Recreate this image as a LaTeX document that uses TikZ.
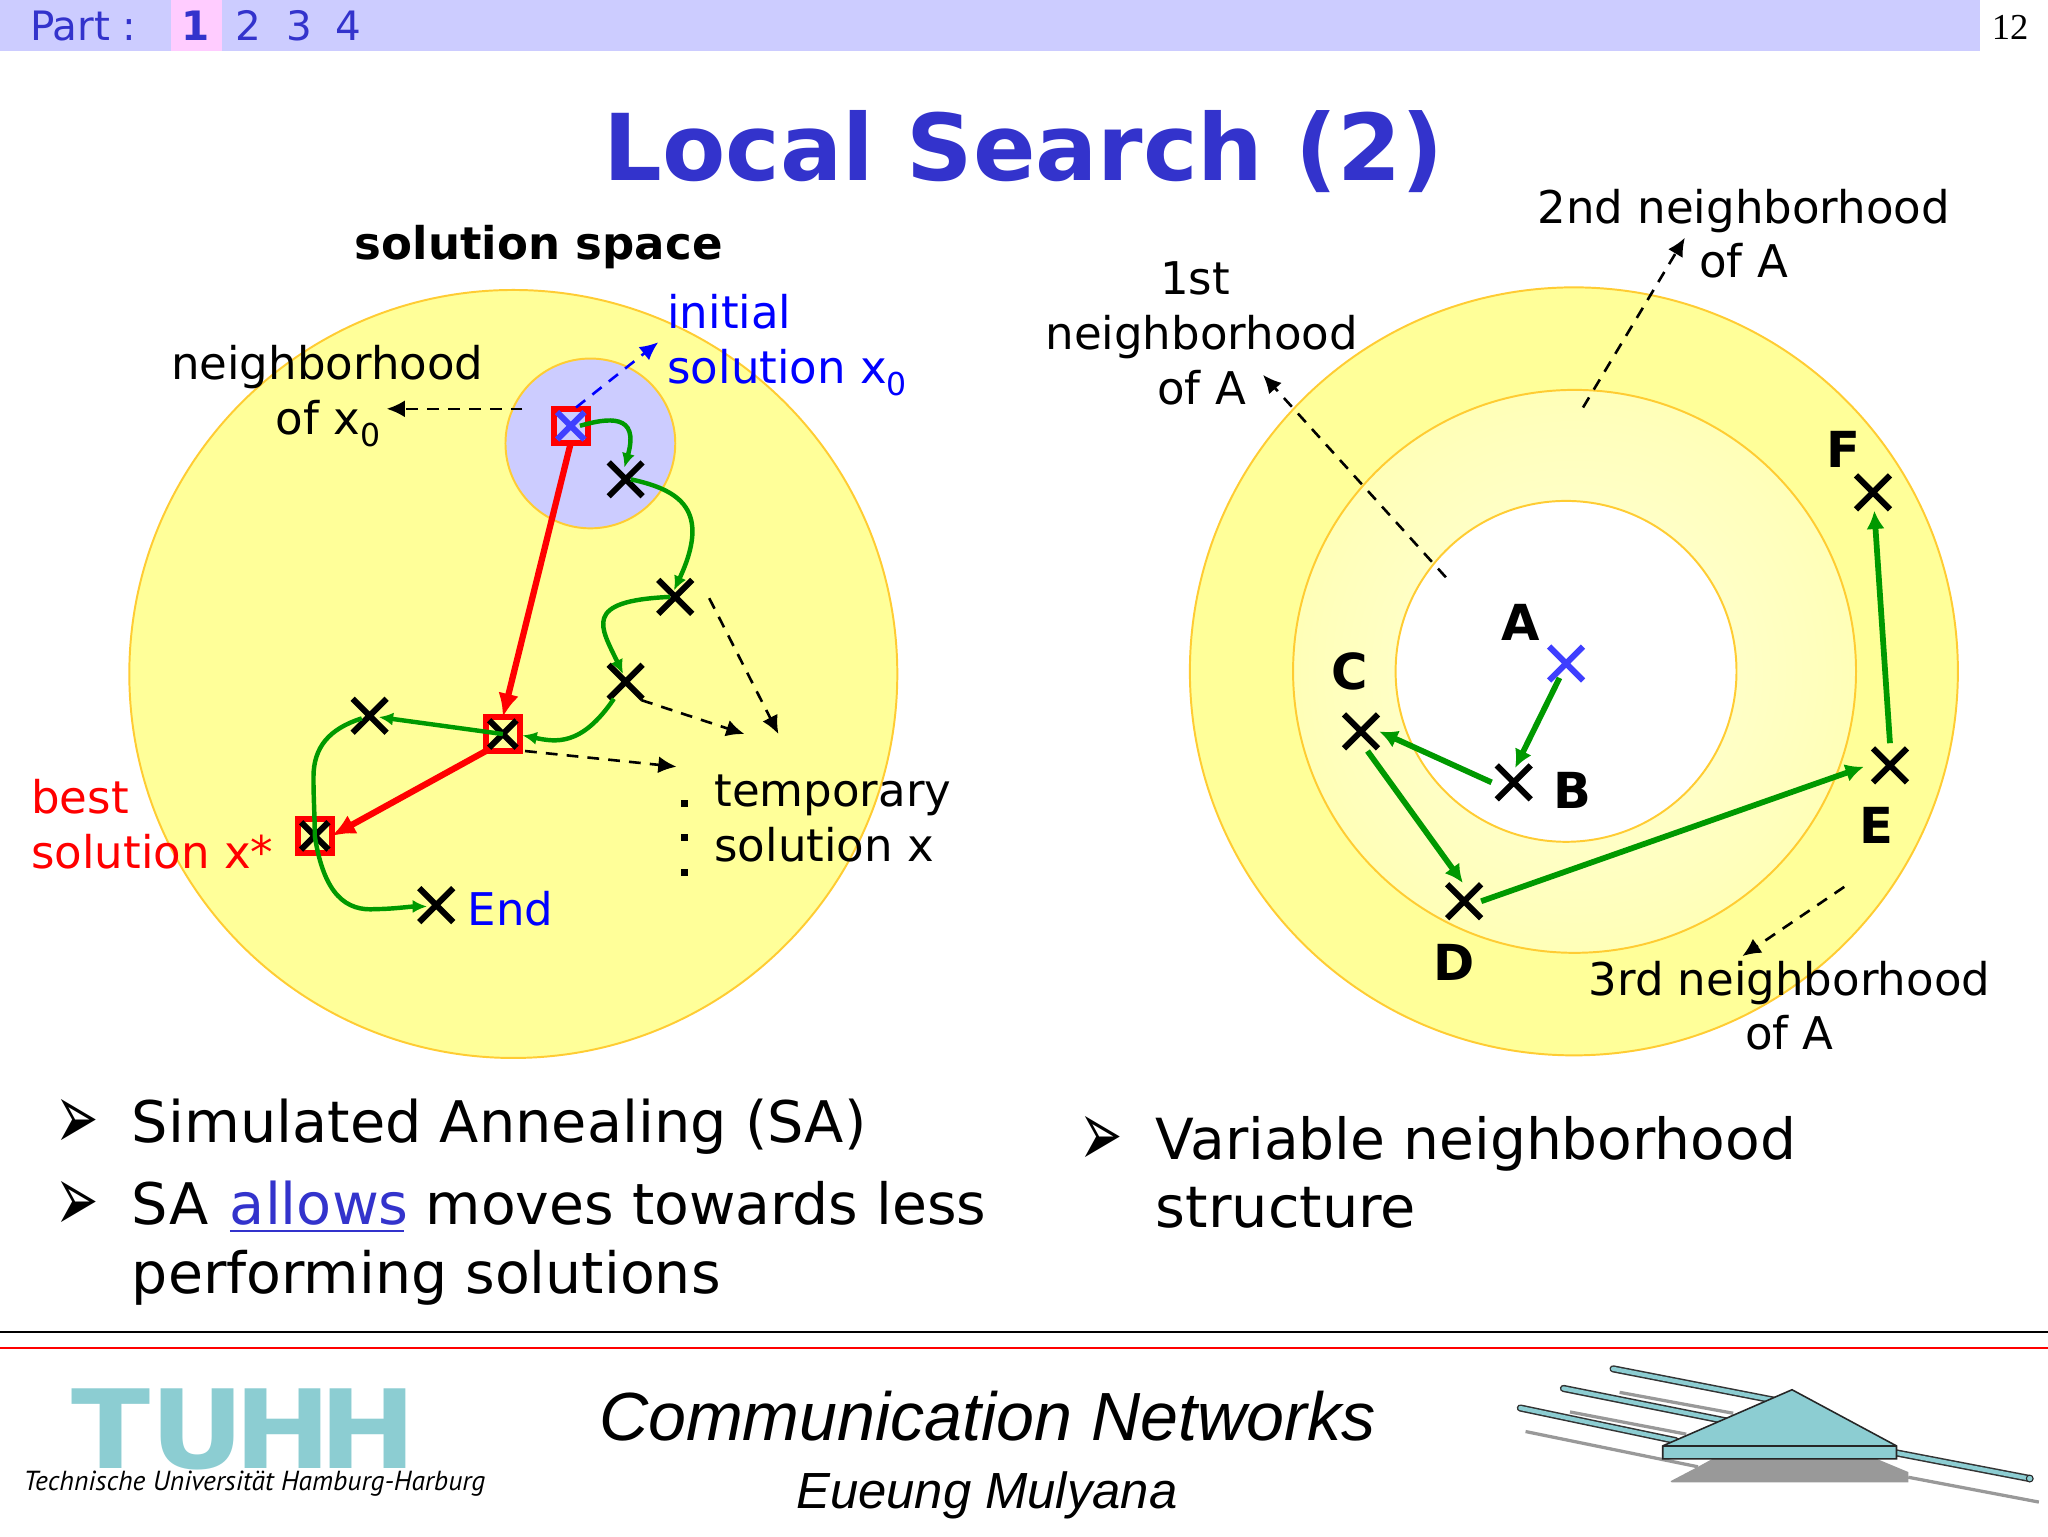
\documentclass[tikz,border=0pt]{standalone}
\usepackage{fontspec}
\setmainfont{DejaVu Sans}
\newfontfamily\arialf{Liberation Sans}
\newfontfamily\timesf{Liberation Serif}
\newfontfamily\logof{PT Sans}
\usetikzlibrary{arrows.meta,shapes.misc}
\definecolor{barblue}{HTML}{CCCCFF}
\definecolor{barpink}{HTML}{FFCCFF}
\definecolor{headblue}{HTML}{3333CC}
\definecolor{ptblue}{HTML}{0000FF}
\definecolor{softblue}{HTML}{3F3FFF}
\definecolor{pale}{HTML}{FFFF99}
\definecolor{rim}{HTML}{FFCC33}
\definecolor{go}{HTML}{009900}
\definecolor{teal}{HTML}{8CCDD2}
\definecolor{shadowgray}{HTML}{999999}
\pgfdeclareradialshading{ringshade}{\pgfpoint{0bp}{0bp}}{rgb(0bp)=(1,1,0.86); rgb(25bp)=(1,1,0.72); rgb(50bp)=(1,1,0.72)}
\newcommand{\fs}[1]{\fontsize{#1}{#1}\selectfont}
\tikzset{
  x=1pt,y=-1pt,
  txt/.style={anchor=base west,inner sep=0,outer sep=0},
  ctxt/.style={anchor=base,inner sep=0,outer sep=0},
  lab/.style={txt,font=\fs{34.5},yshift=-0.8pt},
  clab/.style={ctxt,font=\fs{34.5},yshift=-0.8pt},
  body/.style={txt,font=\fs{43.9}},
  letterlab/.style={ctxt,font=\fs{38}\bfseries},
  xmark/.style={cross out,draw=black,line width=4.6pt,minimum size=26pt,inner sep=0,outer sep=0},
  xsmall/.style={xmark,minimum size=21pt},
  redsq/.style={draw=red,line width=4.6pt,minimum size=26pt,inner sep=0,outer sep=0,rectangle},
  ring/.style={draw=rim,line width=1.5pt},
  dashy/.style={dash pattern=on 9pt off 7pt,line width=2pt,-{Latex[length=14pt,width=13pt]}},
  greenc/.style={draw=go,line width=3.4pt,-{Latex[length=11pt,width=10pt]}},
  greens/.style={draw=go,line width=4.4pt,-{Latex[length=14pt,width=14pt]}},
  redarrow/.style={draw=red,line width=4.8pt,-{Latex[length=18pt,width=16pt]}},
  rodout/.style={line width=5.5pt,line cap=round,draw=black!80},
  rodin/.style={line width=3.2pt,line cap=round,draw=teal},
  shadowline/.style={line width=2.5pt,draw=shadowgray},
  dotmark/.style={fill=black,minimum size=5pt,inner sep=0,outer sep=0,rectangle},
  bul/.style={ctxt,font=\fs{36}},
}
\newcommand{\bulletglyph}{\scalebox{1.1}[2]{➢}}
\begin{document}
\begin{tikzpicture}
\useasboundingbox (0,0) rectangle (1568,1176);
\fill[white] (0,0) rectangle (1568,1176);
% top bar
\fill[barblue] (0,0) rectangle (1516,39);
\fill[barpink] (131,0) rectangle (170,39);
\begin{scope}[every node/.style={text=headblue,font=\fs{31}}]
\node[txt] (part) at (23,31) {Part :};
\node[ctxt,font=\fs{31}\bfseries] (p1) at (150,31) {1};
\node[ctxt] (p2) at (190,31) {2};
\node[ctxt] (p3) at (229,31) {3};
\node[ctxt] (p4) at (267,31) {4};
\end{scope}
\node[ctxt,font=\timesf\fs{28}] (pageno) at (1539,30) {12};
\node[ctxt,text=headblue,font=\fs{70.6}\bfseries] (title) at (784,138) {Local Search (2)};
% left disc
\filldraw[fill=pale,ring] (393,516) circle (294);
\filldraw[fill=barblue,ring] (452,339.5) circle (65);
% right discs
\filldraw[fill=pale,ring] (1205,514) circle (294);
\shade[shading=ringshade] (1205.5,514) circle (215.5);
\draw[ring] (1205.5,514) circle (215.5);
\filldraw[fill=white,ring] (1199,514) circle (130.5);
% left labels
\node[ctxt,font=\fs{34.5}\bfseries] (space) at (412.5,199) {solution space};
\node[clab] (nb1) at (250.5,290) {neighborhood};
\node[lab] (nb2) at (211,332) {of x\textsubscript{0}};
\node[lab,text=ptblue] (init1) at (511,251) {initial};
\node[lab,text=ptblue] (init2) at (511,293) {solution x\textsubscript{0}};
\node[lab,text=red] (best1) at (24,622) {best};
\node[lab,text=red] (best2) at (24,664) {solution x*};
\node[lab] (temp1) at (547,617) {temporary};
\node[lab] (temp2) at (547,659) {solution x};
\node[lab,text=ptblue] (endl) at (358,708) {End};
\node[dotmark] (d1) at (524,615) {};
\node[dotmark] (d2) at (524,641) {};
\node[dotmark] (d3) at (524,668) {};
% red squares first: the green path runs over them
\node[redsq] (sqx) at (437,326) {};
\node[redsq] (sqs) at (385,562) {};
\node[redsq] (sqb) at (241,640) {};
% left marks
\node[xsmall,draw=softblue] (x0) at (437,326) {};
\node[xmark] (t1) at (479,367) {};
\node[xmark] (t2) at (517,457) {};
\node[xmark] (t3) at (479,522) {};
\node[xsmall] (s) at (385,562) {};
\node[xmark] (u) at (283,548) {};
\node[xsmall] (b) at (241,640) {};
\node[xmark] (e) at (334,693) {};
% red
\draw[redarrow] (sqx.south) -- (sqs.north);
\draw[redarrow] (sqs.south west) -- (sqb.east);
% green path
\draw[greenc] ([shift={(7,0)}]x0.center) .. controls (465,320) and (490,316) .. ([shift={(-1,-9)}]t1.center);
\draw[greenc] ([shift={(4,0)}]t1.center) .. controls (520,375) and (545,390) .. ([shift={(-1,-5)}]t2.center);
\draw[greenc] ([shift={(-4,0)}]t2.center) .. controls (445,460) and (460,480) .. ([shift={(-2,-6)}]t3.center);
\draw[greenc] ([shift={(-9,13)}]t3.center) .. controls (445,572) and (425,568) .. ([shift={(15,1)}]s.center);
\draw[greenc] (s.center) -- ([shift={(7,1)}]u.center);
\draw[draw=go,line width=3.4pt] ([shift={(-6,2)}]u.center) .. controls (252,558) and (240,572) .. (240,595) .. controls (240,612) and (241,625) .. (b.center);
\draw[greenc] (b.center) .. controls (248,685) and (265,698) .. (288,696) .. controls (300,696) and (315,694) .. ([shift={(-7,1)}]e.center);
% left dashed
\coordinate (nbs) at (400,313);
\coordinate (nbe) at (296,313);
\coordinate (ins) at (441,312);
\coordinate (ine) at (504,262);
\coordinate (ta) at (596,562);
\coordinate (tb) at (570,562);
\coordinate (tc) at (518,587);
\coordinate (t2s) at (543,458);
\coordinate (t3s) at (491,536);
\coordinate (ss) at (402,575);
\draw[dashy] (nbs) -- (nbe);
\draw[dashy,ptblue] (ins) -- (ine);
\draw[dashy] (t2s) -- (ta);
\draw[dashy] (t3s) -- (tb);
\draw[dashy] (ss) -- (tc);
% right labels
\node[clab] (n2a) at (1335,170) {2nd neighborhood};
\node[lab] (n2b) at (1301,212) {of A};
\node[clab] (n1a) at (915,225) {1st};
\node[clab] (n1b) at (920,267) {neighborhood};
\node[clab] (n1c) at (920,309) {of A};
\node[clab] (n3a) at (1370,761) {3rd neighborhood};
\node[clab] (n3b) at (1370,803) {of A};
\node[letterlab] (la) at (1164,490) {A};
\node[letterlab] (lb) at (1204,619) {B};
\node[letterlab] (lc) at (1033,528) {C};
\node[letterlab] (ld) at (1113,751) {D};
\node[letterlab] (le) at (1437,646) {E};
\node[letterlab] (lf) at (1411,358) {F};
% right marks
\node[xmark,draw=softblue] (A) at (1199,508) {};
\node[xmark] (B) at (1159,599) {};
\node[xmark] (C) at (1042,560) {};
\node[xmark] (D) at (1121,690) {};
\node[xmark] (E) at (1447,586) {};
\node[xmark] (F) at (1434,377) {};
\draw[greens] ([shift={(-5,11)}]A.center) -- ([shift={(1,-11)}]B.center);
\draw[greens] ([shift={(-17,0)}]B.center) -- ([shift={(14,0)}]C.center);
\draw[greens] ([shift={(5,15)}]C.center) -- ([shift={(-1,-14)}]D.center);
\draw[greens] ([shift={(13,0)}]D.center) -- ([shift={(-20,1)}]E.center);
\draw[greens] ([shift={(0,-17)}]E.center) -- ([shift={(1,14)}]F.center);
\coordinate (r1s) at (1107,442);
\coordinate (r1e) at (967,287);
\coordinate (r2s) at (1212,312);
\coordinate (r2e) at (1290,182);
\coordinate (r3s) at (1412,679);
\coordinate (r3e) at (1334,732);
\draw[dashy] (r1s) -- (r1e);
\draw[dashy] (r2s) -- (r2e);
\draw[dashy] (r3s) -- (r3e);
% bullets
\node[bul] (bu1) at (59,880) {\bulletglyph};
\node[bul] (bu2) at (59,943) {\bulletglyph};
\node[bul] (bu3) at (843,893) {\bulletglyph};
\node[body] (b1) at (101,875) {Simulated Annealing (SA)};
\node[body] (b2a) at (101,937.5) {SA};
\node[body,text=headblue] (b2b) at (176,937.5) {allows};
\draw[headblue,line width=2pt] (b2b.base west) ++(0,5) -- ++(133,0);
\node[body,font=\fs{43.5}] (b2c) at (326,937.5) {moves towards less};
\node[body,font=\fs{43.6}] (b3) at (101,990) {performing solutions};
\node[body,font=\fs{43.4}] (b4) at (885,888) {Variable neighborhood};
\node[body] (b5) at (885,940) {structure};
% footer
\draw[black,line width=1.6pt] (0,1020) -- (1568,1020);
\draw[red,line width=1.4pt] (0,1032) -- (1568,1032);
\node[ctxt,font=\arialf\itshape\fs{52.2}] (cn) at (756,1103) {Communication Networks};
\node[ctxt,font=\arialf\itshape\fs{38.9}] (eu) at (755.5,1155) {Eueung Mulyana};
\node[txt,text=teal,font=\fs{83.7}\bfseries] (tuhh) at (55,1124) {\scalebox{1.06}[1]{T\kern0pt U\kern-7.6pt H\kern-8.7pt H}};
\node[txt,font=\logof\itshape\fs{21.1}] (tu) at (18,1141) {Technische Universität Hamburg-Harburg};
% building logo
\draw[shadowline] (1240,1066) -- (1327,1082);
\draw[shadowline] (1202,1081) -- (1291,1098);
\draw[shadowline] (1168,1096) -- (1300,1123);
\draw[shadowline] (1461,1131) -- (1561,1150);
\fill[shadowgray] (1279,1134) -- (1300,1123) -- (1311,1117) -- (1437,1117) -- (1461,1127) -- (1461,1135) -- (1280,1135) -- cycle;
\draw[rodout] (1235,1048) -- (1358,1072); \draw[rodin] (1235,1048) -- (1358,1072);
\draw[rodout] (1197,1063) -- (1322,1088); \draw[rodin] (1197,1063) -- (1322,1088);
\draw[rodout] (1164,1078) -- (1283,1103); \draw[rodin] (1164,1078) -- (1283,1103);
\draw[rodout] (1450,1112) -- (1554,1132); \draw[rodin] (1450,1112) -- (1554,1132);
\filldraw[fill=teal,draw=black!85,line width=0.8pt] (1554,1132) circle (2.6);
\filldraw[fill=teal,draw=black!85,line width=1.2pt] (1273,1107) -- (1372,1064) -- (1452,1107) -- (1452,1117) -- (1273,1117) -- cycle;
\draw[black!85,line width=1.2pt] (1273,1107) -- (1452,1107);
\end{tikzpicture}
\end{document}
